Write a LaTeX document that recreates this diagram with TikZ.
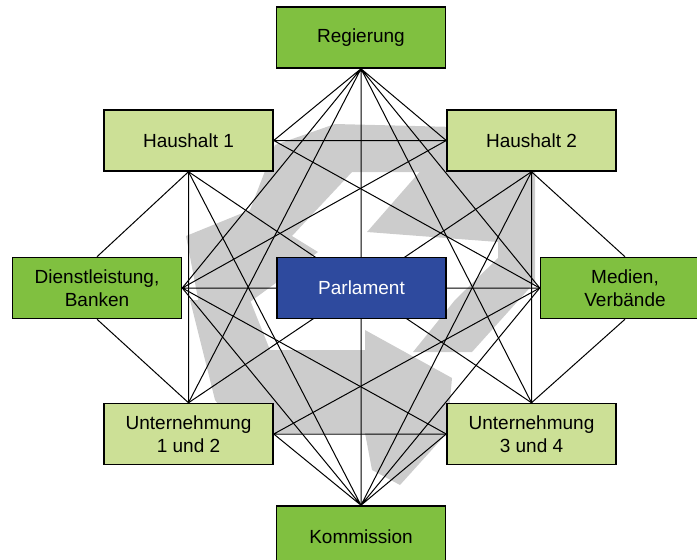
\documentclass[tikz,border=0pt]{standalone}
\usepackage{fontspec}
\setmainfont{Liberation Sans}
\usetikzlibrary{positioning}

\pgfdeclarelayer{bg}
\pgfdeclarelayer{wires}
\pgfsetlayers{bg,wires,main}

\definecolor{darkgreen}{RGB}{128,192,64}
\definecolor{lightgreen}{RGB}{204,224,150}
\definecolor{parlblue}{RGB}{46,74,158}
\definecolor{shade}{RGB}{204,204,204}

\begin{document}
\begin{tikzpicture}
[
	              x = 1pt, y = -1pt,
	      box/.style = { draw=black, line width=1.5pt, minimum width=169pt, minimum height=61pt,
	                     inner sep=0pt, align=center, font=\fontsize{19}{23}\selectfont },
	  darkbox/.style = { box, fill=darkgreen },
	 lightbox/.style = { box, fill=lightgreen },
	 parlbox/.style = { box, fill=parlblue, text=white },
	     wire/.style = { draw=black, line width=1pt },
	 recycle/.style = { fill=shade, draw=none }
]
	\useasboundingbox (0,0) rectangle (697,560);

	% nodes
	\node (Reg)  at (361,37.5)    [darkbox]  {Regierung};
	\node (HH1)  at (188.5,140.5) [lightbox] {Haushalt 1};
	\node (HH2)  at (531.5,140.5) [lightbox] {Haushalt 2};
	\node (Dien) at (97,288)      [darkbox]  {Dienstleistung,\\Banken};
	\node (Parl) at (361.5,288)   [parlbox]  {Parlament};
	\node (Med)  at (625,288)     [darkbox]  {Medien,\\Verbände};
	\node (Unt1) at (188.5,434)   [lightbox] {Unternehmung\\1 und 2};
	\node (Unt2) at (531.5,434)   [lightbox] {Unternehmung\\3 und 4};
	\node (Kom)  at (361,536.5)   [darkbox]  {Kommission};

	% edges
	\begin{pgfonlayer}{wires}
	\draw [wire] (Reg.south) -- (HH1.east)  (Reg.south) -- (HH2.west)
	             (Reg.south) -- (Dien.east) (Reg.south) -- (Med.west)
	             (Reg.south) -- (Unt1.north) (Reg.south) -- (Unt2.north)
	             (Reg.south) -- (Kom.north);
	\draw [wire] (Kom.north) -- (Unt1.east) (Kom.north) -- (Unt2.west)
	             (Kom.north) -- (Dien.east) (Kom.north) -- (Med.west)
	             (Kom.north) -- (HH1.south) (Kom.north) -- (HH2.south);
	\draw [wire] (Dien.east) -- (Med.west) (Dien.east) -- (HH2.west) (Dien.east) -- (Unt2.west)
	             (Dien.north) -- (HH1.south) (Dien.south) -- (Unt1.north);
	\draw [wire] (HH1.east) -- (HH2.west) (HH1.east) -- (Med.west)
	             (HH1.south) -- (Unt1.north) (HH1.south) -- (Unt2.north);
	\draw [wire] (HH2.south) -- (Med.north) (HH2.south) -- (Unt2.north) (HH2.south) -- (Unt1.north);
	\draw [wire] (Unt1.east) -- (Unt2.west) (Unt1.east) -- (Med.west);
	\draw [wire] (Unt2.north) -- (Med.south);
	\end{pgfonlayer}

	% grey arrows behind
	\begin{pgfonlayer}{bg}
	% top arrow
	\fill [recycle] (455,127) -- (335,124) -- (275,145) -- (250,210) -- (186,236) -- (205,335)
	  -- (318,252) -- (292,236) -- (352,172) -- (455,172) -- cycle;
	% bottom arrow
	\fill [recycle] (190,300) -- (250,300) -- (270,350) -- (365,350) -- (365,330) -- (452,378)
	  -- (447,433) -- (400,485) -- (372,470) -- (365,433) -- (240,433) -- (215,400) -- cycle;
	% right arrow
	\fill [recycle] (413,352) -- (455,300) -- (498,258) -- (498,242) -- (367,232) -- (430,160)
	  -- (498,160) -- (515,148) -- (535,165) -- (535,282) -- (472,352) -- cycle;
	\end{pgfonlayer}
\end{tikzpicture}
\end{document}
